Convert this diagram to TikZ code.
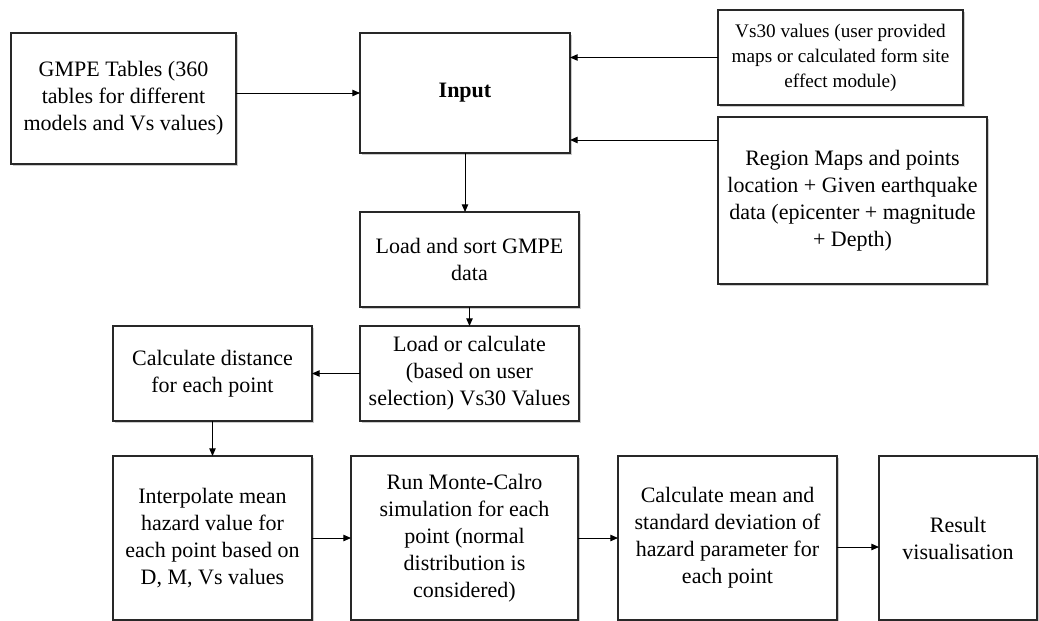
\documentclass[tikz,border=0pt]{standalone}
\usepackage{fontspec}
\setmainfont{Liberation Serif}
\newfontfamily\hzserif{Liberation Serif}
\usetikzlibrary{arrows.meta,positioning,shadows}
\definecolor{hzedge}{RGB}{40,40,40}
\definecolor{hzshade}{RGB}{140,140,140}
\tikzset{
  hzbox/.style={
    draw=hzedge, line width=0.7pt, fill=white, align=center,
    inner sep=2pt, outer sep=0pt, font=\hzserif\fontsize{11}{13.5}\selectfont,
    drop shadow={shadow xshift=1.1pt, shadow yshift=-1.1pt, fill=hzshade, opacity=0.45}
  },
  smallbox/.style={hzbox, font=\hzserif\fontsize{9.6}{12.5}\selectfont},
  arr/.style={-{Triangle[length=3.8pt,width=3.2pt]}, draw=black, line width=0.5pt}
}
\begin{document}
\begin{tikzpicture}[x=0.5pt, y=-0.5pt, node distance=9.5pt and 24pt]
  \useasboundingbox (0,0) rectangle (1039,621);

  % inputs
  \node[hzbox, minimum width=105pt, minimum height=60pt,
        font=\hzserif\bfseries\fontsize{11}{13.5}\selectfont] (input) at (465,93) {Input};
  \node[hzbox, minimum width=112.5pt, minimum height=65.5pt] (gmpe) at (123.5,98.5)
    {GMPE Tables (360\\tables for different\\models and Vs values)};
  \node[smallbox, minimum width=122.5pt, minimum height=47.5pt] (vs) at (840.5,57.5)
    {Vs30 values (user provided\\maps or calculated form site\\effect module)};
  \node[hzbox, minimum width=134.5pt, minimum height=83.5pt] (region) at (852.5,200.5)
    {Region Maps and points\\location + Given earthquake\\data (epicenter + magnitude\\+ Depth)};

  % processing
  \node[hzbox, minimum width=109.5pt, minimum height=47.5pt] (sortgm) at (469.5,259.5)
    {Load and sort GMPE\\data};
  \node[hzbox, minimum width=109.5pt, minimum height=47.5pt, below=of sortgm] (vsload)
    {Load or calculate\\(based on user\\selection) Vs30 Values};
  \node[hzbox, minimum width=99.5pt, minimum height=47.5pt, left=of vsload] (dist)
    {Calculate distance\\for each point};
  \node[hzbox, minimum width=99.5pt, minimum height=82pt, below=17.5pt of dist] (interp)
    {Interpolate mean\\hazard value for\\each point based on\\D, M, Vs values};
  \node[hzbox, minimum width=113.5pt, minimum height=82pt, right=19.5pt of interp] (monte)
    {Run Monte-Calro\\simulation for each\\point (normal\\distribution is\\considered)};
  \node[hzbox, minimum width=109.5pt, minimum height=82pt, right=20pt of monte] (stats)
    {Calculate mean and\\standard deviation of\\hazard parameter for\\each point};
  \node[hzbox, minimum width=79pt, minimum height=82pt, right=21pt of stats] (result)
    {Result\\visualisation};

  \coordinate (regin) at ([yshift=-11.5pt]region.north west);

  \draw[arr] (gmpe.east |- input) -- (input.west);
  \draw[arr] (vs.west) -- (vs.west -| input.east);
  \draw[arr] (regin) -- (regin -| input.east);
  \draw[arr] (input.south) -- (input.south |- sortgm.north);
  \draw[arr] (sortgm.south) -- (vsload.north);
  \draw[arr] (vsload.west) -- (dist.east);
  \draw[arr] (dist.south) -- (interp.north);
  \draw[arr] (interp) -- (monte);
  \draw[arr] (monte) -- (stats);
  \draw[arr] ([yshift=-4.5pt]stats.east) -- ([yshift=-4.5pt]result.west);
\end{tikzpicture}
\end{document}
